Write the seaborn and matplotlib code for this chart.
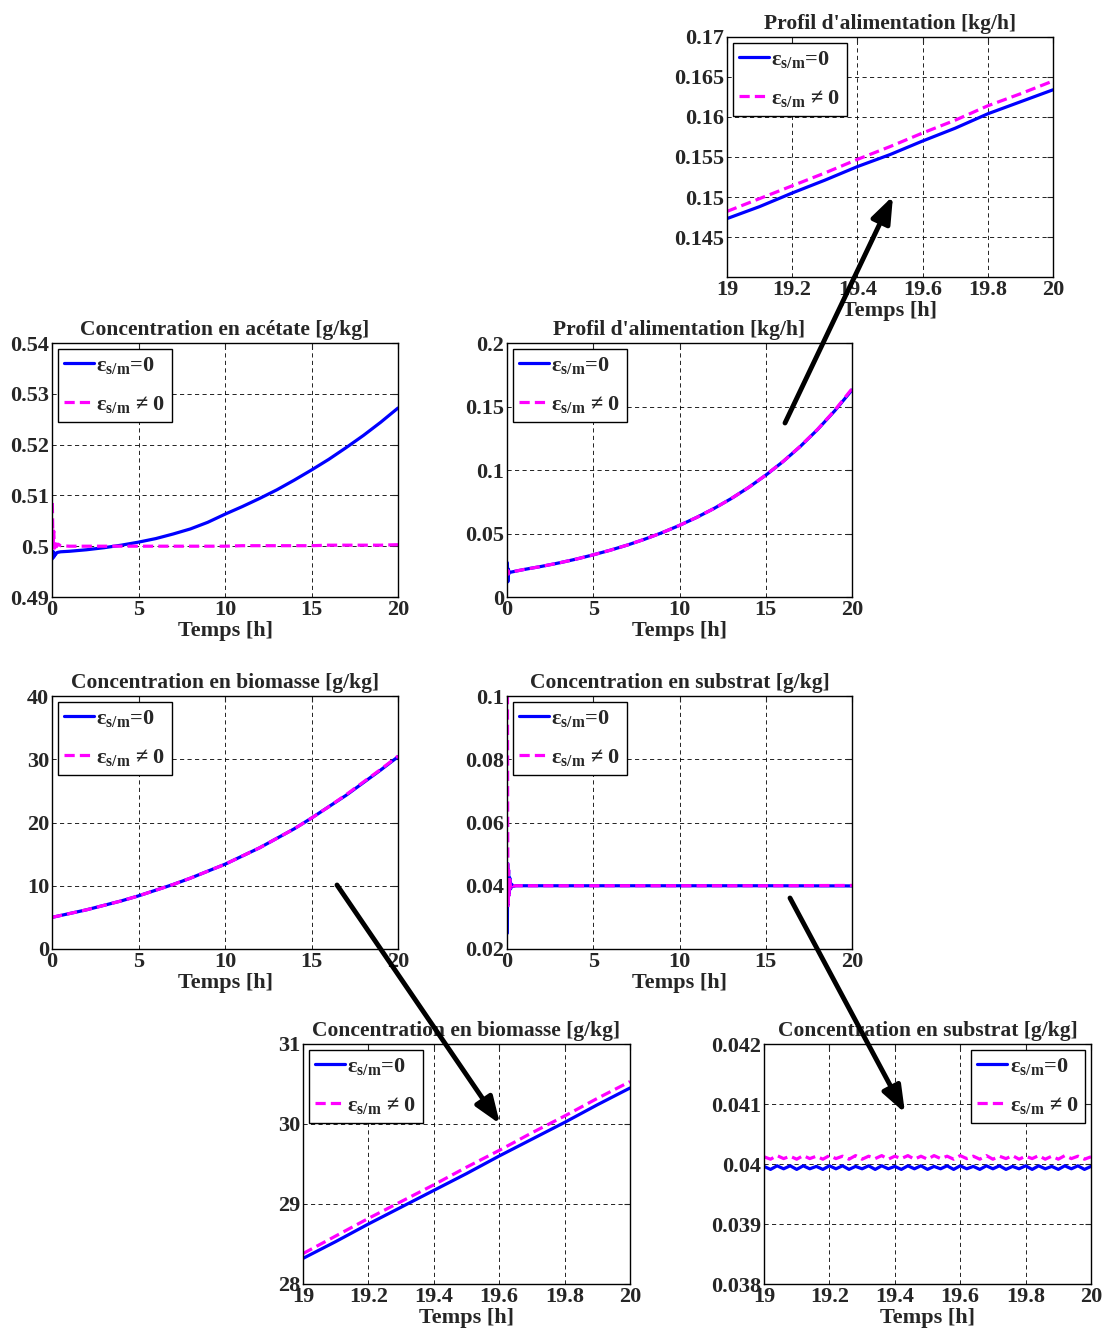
import numpy as np
import matplotlib
matplotlib.use('Agg')
import matplotlib.pyplot as plt
import seaborn as sns
from matplotlib.patches import FancyArrowPatch
from matplotlib.ticker import FuncFormatter

# ---------------- data ----------------
t_hours = [1, 2, 3, 4, 5, 6, 7, 8, 9, 10, 11, 12, 13, 14, 15, 16, 17, 18, 19, 20]

# acetate
t_acet = [0.02, 0.06, 0.1, 0.14, 0.2, 0.26, 0.35, 0.5] + t_hours
acet_blue = [0.4975, 0.4990, 0.4978, 0.4986, 0.4983, 0.4987, 0.4988, 0.4989,
             0.4990, 0.4993, 0.4997, 0.5002, 0.5008, 0.5015, 0.5024, 0.5034, 0.5047, 0.5063,
             0.5078, 0.5094, 0.5111, 0.5130, 0.5150, 0.5171, 0.5194, 0.5218, 0.5244, 0.5272]
acet_mag = [0.5085, 0.4995, 0.5030, 0.4996, 0.5012, 0.4999, 0.5004, 0.5001,
            0.5000, 0.5000, 0.5000, 0.5000, 0.5000, 0.5000, 0.5000, 0.5000, 0.5000, 0.5000,
            0.5001, 0.5001, 0.5001, 0.5001, 0.5001, 0.5002, 0.5002, 0.5002, 0.5002, 0.5003]

# feed profile
t_feed = [0.02, 0.05, 0.08, 0.12, 0.2] + t_hours
feed_blue = [0.027, 0.012, 0.022, 0.0185, 0.0195,
             0.0217, 0.0241, 0.0268, 0.0298, 0.0332, 0.0369, 0.0410, 0.0456, 0.0507, 0.0564,
             0.0627, 0.0697, 0.0775, 0.0862, 0.0959, 0.1066, 0.1185, 0.1318, 0.1466, 0.1630]
feed_mag = [0.018, 0.021, 0.0180, 0.0195, 0.0196,
            0.0217, 0.0241, 0.0268, 0.0298, 0.0332, 0.0369, 0.0410, 0.0456, 0.0507, 0.0564,
            0.0627, 0.0697, 0.0775, 0.0862, 0.0960, 0.1067, 0.1187, 0.1320, 0.1470, 0.1640]

# biomass
t_bio = [0] + t_hours
bio_blue = [5.0, 5.6, 6.2, 6.9, 7.6, 8.4, 9.3, 10.2, 11.2, 12.3, 13.4,
            14.7, 16.0, 17.5, 19.0, 20.7, 22.5, 24.3, 26.3, 28.3, 30.4]
bio_mag = [5.0, 5.6, 6.2, 6.9, 7.6, 8.4, 9.3, 10.2, 11.2, 12.3, 13.4,
           14.7, 16.0, 17.5, 19.0, 20.7, 22.5, 24.4, 26.4, 28.4, 30.5]

# substrate
t_sub = [0.02, 0.04, 0.06, 0.09, 0.12, 0.16, 0.21, 0.27, 0.36, 0.5, 1, 5, 10, 15, 20]
sub_blue = [0.025, 0.047, 0.034, 0.045, 0.037, 0.0425, 0.0390, 0.0405, 0.0398, 0.0400,
            0.0400, 0.0400, 0.0400, 0.0400, 0.03995]
sub_mag = [0.12, 0.06, 0.033, 0.045, 0.037, 0.042, 0.0393, 0.0404, 0.0399, 0.0400,
           0.0400, 0.0400, 0.0400, 0.0400, 0.0401]

# zoom windows 19-20 h
t_zoom = [19.0, 19.1, 19.2, 19.3, 19.4, 19.5, 19.6, 19.7, 19.8, 19.9, 20.0]
feedz_blue = [0.1473, 0.1488, 0.1505, 0.1521, 0.1538, 0.1553, 0.1570, 0.1586, 0.1604, 0.1619, 0.1634]
feedz_mag = [0.1482, 0.1498, 0.1514, 0.1530, 0.1547, 0.1563, 0.1580, 0.1596, 0.1614, 0.1629, 0.1645]
bioz_blue = [28.32, 28.53, 28.75, 28.96, 29.17, 29.38, 29.60, 29.81, 30.02, 30.24, 30.45]
bioz_mag = [28.38, 28.60, 28.82, 29.03, 29.24, 29.46, 29.67, 29.89, 30.10, 30.32, 30.53]

t_subz = np.linspace(19.0, 20.0, 51)
subz_blue = [0.03996, 0.03991, 0.03997, 0.03992, 0.03997, 0.03991, 0.03997, 0.03992, 0.03996, 0.03991,
             0.03997, 0.03992, 0.03997, 0.03991, 0.03996, 0.03992, 0.03997, 0.03991, 0.03997, 0.03992,
             0.03996, 0.03991, 0.03997, 0.03992, 0.03997, 0.03991, 0.03996, 0.03992, 0.03997, 0.03991,
             0.03997, 0.03992, 0.03996, 0.03991, 0.03997, 0.03992, 0.03997, 0.03991, 0.03996, 0.03992,
             0.03997, 0.03991, 0.03997, 0.03992, 0.03996, 0.03991, 0.03997, 0.03992, 0.03997, 0.03991,
             0.03996]
subz_mag = [0.04012, 0.04008, 0.04014, 0.04009, 0.04013, 0.04008, 0.04014, 0.04009, 0.04013, 0.04008,
            0.04014, 0.04009, 0.04013, 0.04008, 0.04014, 0.04008, 0.04013, 0.04009, 0.04014, 0.04008,
            0.04013, 0.04009, 0.04014, 0.04008, 0.04013, 0.04008, 0.04014, 0.04009, 0.04013, 0.04008,
            0.04014, 0.04009, 0.04013, 0.04008, 0.04014, 0.04008, 0.04013, 0.04009, 0.04014, 0.04008,
            0.04013, 0.04009, 0.04014, 0.04008, 0.04013, 0.04008, 0.04014, 0.04009, 0.04013, 0.04008,
            0.04012]

xt_full = [0, 5, 10, 15, 20]
xt_zoom = [19, 19.2, 19.4, 19.6, 19.8, 20]

label0 = 'ε$_{\\mathrm{s/m}}$=0'
label1 = 'ε$_{\\mathrm{s/m}}$ ≠ 0'

# ---------------- style ----------------
sns.set_style('white')
plt.rcParams['font.family'] = ['Liberation Serif', 'DejaVu Serif']
plt.rcParams['font.weight'] = 'bold'
plt.rcParams['mathtext.fontset'] = 'custom'
plt.rcParams['mathtext.rm'] = 'Liberation Serif:bold'
plt.rcParams['mathtext.bf'] = 'Liberation Serif:bold'
plt.rcParams['mathtext.it'] = 'Liberation Serif:bold'
plt.rcParams['axes.edgecolor'] = 'black'
plt.rcParams['axes.linewidth'] = 1.0

W, H = 1107, 1333
fig = plt.figure(figsize=(W / 100, H / 100), dpi=100)

BLUE = '#0000ff'
MAG = '#ff00ff'
fmt = FuncFormatter(lambda v, p: f'{v:g}')
FS = 16


def panel(box, tb, yb, tm, ym, xlim, ylim, xticks, yticks, title, loc='upper left'):
    l, t, r, b = box
    ax = fig.add_axes([l / W, 1 - b / H, (r - l) / W, (b - t) / H])
    sns.lineplot(x=tb, y=yb, ax=ax, color=BLUE, lw=2.3, label=label0,
                 sort=False, estimator=None)
    sns.lineplot(x=tm, y=ym, ax=ax, color=MAG, lw=2.3, linestyle=(0, (3.2, 1.6)),
                 label=label1, sort=False, estimator=None)
    ax.set_xlim(*xlim)
    ax.set_ylim(*ylim)
    ax.set_xticks(xticks)
    ax.set_yticks(yticks)
    ax.xaxis.set_major_formatter(fmt)
    ax.yaxis.set_major_formatter(fmt)
    ax.grid(True, color='black', linestyle=(0, (5, 4)), linewidth=0.6)
    ax.set_axisbelow(True)
    ax.tick_params(direction='in', length=4, width=0.8, top=True, right=True,
                   labelsize=FS, pad=2)
    for lab in ax.get_xticklabels() + ax.get_yticklabels():
        lab.set_fontweight('bold')
    ax.set_title(title, fontsize=15.5, fontweight='bold', pad=6)
    ax.set_xlabel('Temps [h]', fontsize=FS, fontweight='bold', labelpad=1)
    ax.set_ylabel('')
    for s in ax.spines.values():
        s.set_color('black')
        s.set_linewidth(1.0)
    leg = ax.legend(loc=loc, fontsize=16, frameon=True, fancybox=False,
                    framealpha=1, edgecolor='black', handlelength=1.35,
                    handletextpad=0.1, labelspacing=0.8, borderpad=0.3,
                    borderaxespad=0.25)
    leg.get_frame().set_linewidth(1.0)
    return ax


panel((727, 37, 1053, 277), t_zoom, feedz_blue, t_zoom, feedz_mag, (19, 20), (0.14, 0.17),
      xt_zoom, [0.145, 0.15, 0.155, 0.16, 0.165, 0.17], "Profil d'alimentation [kg/h]")
panel((52, 343, 398, 597), t_acet, acet_blue, t_acet, acet_mag, (0, 20), (0.49, 0.54),
      xt_full, [0.49, 0.5, 0.51, 0.52, 0.53, 0.54], "Concentration en acétate [g/kg]")
panel((507, 343, 852, 597), t_feed, feed_blue, t_feed, feed_mag, (0, 20), (0, 0.2),
      xt_full, [0, 0.05, 0.1, 0.15, 0.2], "Profil d'alimentation [kg/h]")
panel((52, 696, 398, 949), t_bio, bio_blue, t_bio, bio_mag, (0, 20), (0, 40),
      xt_full, [0, 10, 20, 30, 40], "Concentration en biomasse [g/kg]")
panel((507, 696, 852, 949), t_sub, sub_blue, t_sub, sub_mag, (0, 20), (0.02, 0.1),
      xt_full, [0.02, 0.04, 0.06, 0.08, 0.1], "Concentration en substrat [g/kg]")
panel((303, 1044, 630, 1284), t_zoom, bioz_blue, t_zoom, bioz_mag, (19, 20), (28, 31),
      xt_zoom, [28, 29, 30, 31], "Concentration en biomasse [g/kg]")
panel((764, 1044, 1091, 1284), t_subz, subz_blue, t_subz, subz_mag, (19, 20), (0.038, 0.042),
      xt_zoom, [0.038, 0.039, 0.04, 0.041, 0.042], "Concentration en substrat [g/kg]",
      loc='upper right')

# ---------------- arrows ----------------
arrows = [((785, 423), (893, 196)), ((337, 885), (500, 1124)), ((790, 898), (905, 1113))]
for (x0, y0), (x1, y1) in arrows:
    fig.add_artist(FancyArrowPatch((x0 / W, 1 - y0 / H), (x1 / W, 1 - y1 / H),
                                   transform=fig.transFigure,
                                   arrowstyle='-|>,head_length=0.8,head_width=0.3',
                                   mutation_scale=20, lw=3.5, color='black',
                                   shrinkA=0, shrinkB=0, zorder=20))

fig.savefig('out.png', dpi=100)
